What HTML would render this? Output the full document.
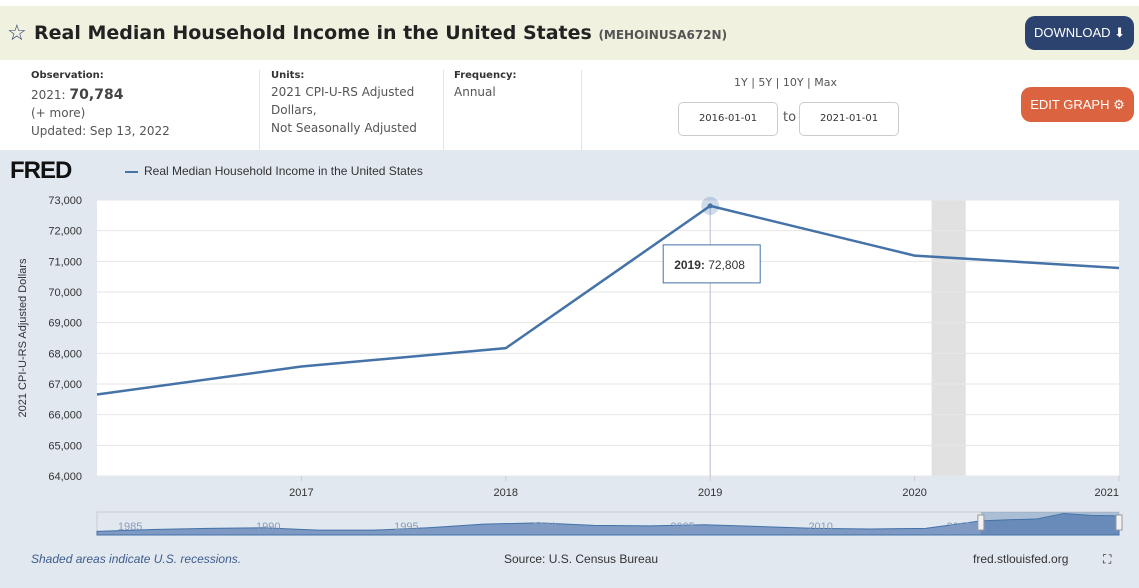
<!DOCTYPE html>
<html><head><meta charset="utf-8"><style>
body{margin:0;width:1139px;height:588px;overflow:hidden;background:#fff;font-family:"Liberation Sans",sans-serif;position:relative}
.a{position:absolute}
.hdr{left:0;top:6px;width:1139px;height:54px;background:#f1f1e0}
.title{left:34px;top:22px;font-family:"DejaVu Sans",sans-serif;font-size:19px;font-weight:bold;color:#222}
.title span{font-size:12px;color:#555}
.btn{color:#fff;font-size:13px;border-radius:10px;text-align:center}
.lbl{font-family:"DejaVu Sans",sans-serif;font-size:10px;font-weight:bold;color:#333}
.val{font-family:"DejaVu Sans",sans-serif;font-size:12px;color:#555;line-height:18px}
.inp{border:1px solid #ccc;border-radius:5px;width:98px;height:32px;font-family:"DejaVu Sans",sans-serif;font-size:10px;color:#333;line-height:32px;text-align:center}
</style></head><body>
<div class="a hdr"></div>
<div class="a" style="left:7px;top:20px;font-size:22px;color:#2a3f6e">☆</div>
<div class="a title">Real Median Household Income in the United States <span>(MEHOINUSA672N)</span></div>
<div class="a btn" style="left:1025px;top:16px;width:109px;height:34px;line-height:34px;background:#2c4370">DOWNLOAD ⬇</div>
<div class="a lbl" style="left:31px;top:70px">Observation:</div>
<div class="a val" style="left:31px;top:86px">2021: <b style="font-size:14px;color:#444">70,784</b><br>(+ more)<br>Updated: Sep 13, 2022</div>
<div class="a" style="left:259px;top:70px;width:1px;height:80px;background:#e4e4e4"></div>
<div class="a lbl" style="left:271px;top:70px">Units:</div>
<div class="a val" style="left:271px;top:83px">2021 CPI-U-RS Adjusted<br>Dollars,<br>Not Seasonally Adjusted</div>
<div class="a" style="left:443px;top:70px;width:1px;height:80px;background:#e4e4e4"></div>
<div class="a lbl" style="left:454px;top:70px">Frequency:</div>
<div class="a val" style="left:454px;top:83px">Annual</div>
<div class="a" style="left:581px;top:70px;width:1px;height:80px;background:#e4e4e4"></div>
<div class="a val" style="left:734px;top:74px;font-size:11px">1Y | 5Y | 10Y | Max</div>
<div class="a inp" style="left:678px;top:102px">2016-01-01</div>
<div class="a val" style="left:783px;top:109px;font-size:13px">to</div>
<div class="a inp" style="left:799px;top:102px">2021-01-01</div>
<div class="a btn" style="left:1021px;top:87px;width:113px;height:35px;line-height:35px;background:#dc6340">EDIT GRAPH ⚙</div>
<div class="a" style="left:0;top:150px;width:1139px;height:438px;background:#e1e8f0"></div>
<div class="a" style="left:10px;top:157px;font-size:24px;font-weight:900;color:#111;letter-spacing:-1px">FRED</div>
<svg class="a" style="left:0;top:150px" width="1139" height="438" id="c"></svg>
<div class="a" style="left:125px;top:164px;font-size:12px;color:#333"><span style="display:inline-block;width:13px;height:2px;background:#4572a7;vertical-align:middle;margin-right:6px"></span>Real Median Household Income in the United States</div>
<div class="a" style="left:31px;top:552px;font-size:12px;font-style:italic;color:#3e5c8c">Shaded areas indicate U.S. recessions.</div>
<div class="a" style="left:504px;top:552px;font-size:12px;color:#333">Source: U.S. Census Bureau</div>
<div class="a" style="left:973px;top:552px;font-size:12px;color:#333">fred.stlouisfed.org</div>
<div class="a" style="left:1103px;top:552px;font-size:12px;color:#222">⛶</div>
<script>
const years=[2016,2017,2018,2019,2020,2021];
const values=[66657,67571,68168,72808,71186,70784];
const yTicks=[64000,65000,66000,67000,68000,69000,70000,71000,72000,73000];
const xTickYears=[2017,2018,2019,2020,2021];
const recession=[2020.083,2020.25];
const navYears=[1984,1986,1988,1990,1992,1994,1996,1998,2000,2002,2004,2006,2008,2010,2012,2014,2016,2017,2018,2019,2020,2021];
const navValues=[58000,59500,60500,61000,59000,59000,61000,64000,65000,63000,62500,63500,62000,60500,60000,60500,66657,67571,68168,72808,71186,70784];
const navLabels=[1985,1990,1995,2000,2005,2010,2015];
const svg=document.getElementById('c');const NS='http://www.w3.org/2000/svg';
const L=97,R=1119,T=50,B=326;
const x=y=>L+(y-2016)/(2021-2016)*(R-L);
const y=v=>B-(v-64000)/(73000-64000)*(B-T);
function el(t,a,p){const e=document.createElementNS(NS,t);for(const k in a)e.setAttribute(k,a[k]);(p||svg).appendChild(e);return e;}
el('rect',{x:L,y:T,width:R-L,height:B-T,fill:'#fff'});
const rr=el('rect',{x:x(recession[0]),y:T,width:x(recession[1])-x(recession[0]),height:B-T,fill:'#e1e1e1'});


yTicks.forEach(v=>{el('line',{x1:L,x2:R,y1:y(v),y2:y(v),stroke:'#e6e6e6'});
const t=el('text',{x:L-15,y:y(v)+4,'text-anchor':'end','font-size':11,fill:'#333'});t.textContent=v.toLocaleString('en-US');

});
xTickYears.forEach(yr=>{el('line',{x1:x(yr),x2:x(yr),y1:B,y2:B+5,stroke:'#ccc'});
const t=el('text',{x:x(yr),y:B+20,'text-anchor':yr==2021?'end':'middle','font-size':11,fill:'#333'});t.textContent=yr;

});
const yt=el('text',{transform:`translate(26,${(T+B)/2}) rotate(-90)`,'text-anchor':'middle','font-size':11,fill:'#333'});yt.textContent='2021 CPI-U-RS Adjusted Dollars';


el('line',{x1:x(2019),x2:x(2019),y1:y(values[3]),y2:B,stroke:'#bbc'});
const ln=el('polyline',{points:years.map((a,i)=>x(a)+','+y(values[i])).join(' '),fill:'none',stroke:'#4572a7','stroke-width':2.5});


el('circle',{cx:x(2019),cy:y(values[3]),r:9,fill:'#4572a7','fill-opacity':0.25});
el('circle',{cx:x(2019),cy:y(values[3]),r:2.5,fill:'#4572a7'});
const tb=el('rect',{x:x(2019)-47,y:y(values[3])+39,width:97,height:38,fill:'#fff',stroke:'#4572a7'});


const tt=el('text',{x:x(2019)-36,y:y(values[3])+63,'font-size':12,fill:'#333'});tt.innerHTML='<tspan font-weight="bold">2019:</tspan> '+values[3].toLocaleString('en-US');
const NL=97,NR=1119,NT=362,NB=385;
const nx=v=>NL+(v-1984)/(2021-1984)*(NR-NL);
const ny=v=>NB-(v-55000)/(74000-55000)*(NB-NT);
el('rect',{x:NL,y:NT,width:NR-NL,height:NB-NT,fill:'#e1e8f0',stroke:'#ccc'});
const area=el('path',{d:'M'+nx(navYears[0])+','+NB+' '+navYears.map((a,i)=>'L'+nx(a)+','+ny(navValues[i])).join(' ')+' L'+nx(2021)+','+NB+'Z',fill:'#7d99c4',stroke:'#4572a7'});


navLabels.forEach(yr=>{const t=el('text',{x:nx(yr+0.2),y:NB-5,'font-size':11,fill:'#8a9cb8','text-anchor':'middle'});t.textContent=yr;});
const sel=el('rect',{x:nx(2016),y:NT,width:nx(2021)-nx(2016),height:NB-NT,fill:'#4572a7','fill-opacity':0.35});


[2016,2021].forEach(yr=>{const h=el('rect',{x:nx(yr)-3,y:NT+3,width:6,height:15,fill:'#f2f2f2',stroke:'#999'});

});
</script>
</body></html>
